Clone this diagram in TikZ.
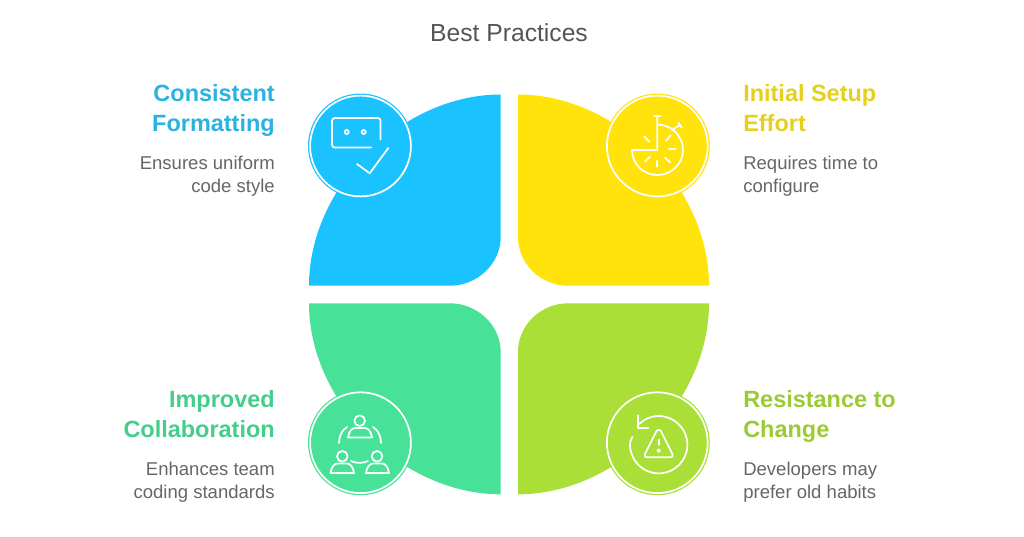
\documentclass[tikz,border=0pt]{standalone}
\usepackage{fontspec}
\setmainfont{Liberation Sans}
\definecolor{cblue}{HTML}{1AC2FF}
\definecolor{cyellow}{HTML}{FFE30A}
\definecolor{cgreen}{HTML}{47E297}
\definecolor{clime}{HTML}{A9DF37}
\definecolor{tblue}{HTML}{2BB2E0}
\definecolor{tyellow}{HTML}{E5D01E}
\definecolor{tgreen}{HTML}{44CE8A}
\definecolor{tlime}{HTML}{9ACB35}
\definecolor{tgrey}{HTML}{666666}
\definecolor{ttitle}{HTML}{555555}
\tikzset{
 x=0.75pt,y=-0.75pt,
 ring/.style={draw=white,line width=1.3pt},
 icon/.style={draw=white,line width=1.3pt,line cap=round,line join=round},
 titletext/.style={inner sep=0pt,anchor=base,text=ttitle,font=\fontsize{18.5}{20}\selectfont},
 headl/.style={inner sep=0pt,anchor=base east,font=\fontsize{17.6}{20}\selectfont\bfseries},
 headr/.style={inner sep=0pt,anchor=base west,font=\fontsize{17.6}{20}\selectfont\bfseries},
 bodyl/.style={inner sep=0pt,anchor=base east,text=tgrey,font=\fontsize{13.9}{15}\selectfont},
 bodyr/.style={inner sep=0pt,anchor=base west,text=tgrey,font=\fontsize{13.9}{15}\selectfont},
}
\begin{document}
\begin{tikzpicture}
\useasboundingbox[fill=white] (0,0) rectangle (1024,536);
\node[titletext] (title) at (509,41) {Best Practices};
% leaves
\fill[cblue] (309,285.7) .. controls (309,186.7) and (401.7,94.5) .. (500.7,94.5) -- (500.7,237) .. controls (500.7,264) and (477,285.7) .. (450,285.7) -- cycle;
\fill[cyellow] (709,285.7) .. controls (709,186.7) and (617,94.5) .. (518,94.5) -- (518,237) .. controls (518,264) and (541,285.7) .. (568,285.7) -- cycle;
\fill[cgreen] (309,303.3) .. controls (309,402.3) and (401.7,494.3) .. (500.7,494.3) -- (500.7,352) .. controls (500.7,325) and (477,303.3) .. (450,303.3) -- cycle;
\fill[clime] (709,303.3) .. controls (709,402.3) and (617,494.3) .. (518,494.3) -- (518,352) .. controls (518,325) and (541,303.3) .. (568,303.3) -- cycle;
% discs
\fill[cblue] (360.5,146) circle[radius=52.5];
\draw[ring] (360.5,146) circle[radius=50.4];
\fill[cyellow] (657.3,146) circle[radius=52.5];
\draw[ring] (657.3,146) circle[radius=50.4];
\fill[cgreen] (360.5,442.7) circle[radius=52.5];
\draw[ring] (360.5,442.7) circle[radius=50.4];
\fill[clime] (657.3,442.7) circle[radius=52.5];
\draw[ring] (657.3,442.7) circle[radius=50.4];
% speech box icon
\draw[icon] (380.5,139.5) -- (380.5,121) .. controls (380.5,119) and (379.5,118) .. (377.5,118) -- (335,118) .. controls (333,118) and (332,119) .. (332,121) -- (332,144.5) .. controls (332,146.5) and (333,147.5) .. (335,147.5) -- (371,147.5);
\draw[icon] (346.7,132) circle[radius=2];
\draw[icon] (363.7,132) circle[radius=2];
\draw[icon] (357,164) -- (369.7,173.3) -- (388.3,148);
% stopwatch icon
\draw[icon] (657.3,116) -- (657.3,150) -- (632,150) .. controls (632,164) and (643.5,175) .. (657.3,175) .. controls (671.2,175) and (683,164) .. (683,150) .. controls (683,136) and (671.2,124.5) .. (657.3,124.5);
\draw[icon] (654.3,116) -- (660.3,116);
\draw[icon] (672,130) -- (680,125);
\draw[icon] (678.3,122.5) -- (681.7,127.5);
\draw[icon] (666,140.7) -- (670.7,135.3);
\draw[icon] (669,148.7) -- (676,148.7);
\draw[icon] (665,157.7) -- (670,162.3);
\draw[icon] (657.3,160.7) -- (657.3,166.7);
\draw[icon] (645,161.7) -- (650,156.7);
\draw[icon] (644.3,136.7) -- (649.3,141.7);
% team icon
\draw[icon] (359.7,420.7) circle[radius=5.3];
\draw[icon] (348,437.5) .. controls (349,431) and (352,428) .. (355,428) -- (365,428) .. controls (368,428) and (371,431) .. (372,437.5) -- cycle;
\draw[icon] (342.3,456.3) circle[radius=5.3];
\draw[icon] (330.5,473) .. controls (331.5,466.5) and (334.5,463.5) .. (337.5,463.5) -- (347,463.5) .. controls (350,463.5) and (353,466.5) .. (354,473) -- cycle;
\draw[icon] (377,456.3) circle[radius=5.3];
\draw[icon] (366,473) .. controls (367,466.5) and (370,463.5) .. (373,463.5) -- (382,463.5) .. controls (385,463.5) and (388,466.5) .. (389,473) -- cycle;
\draw[icon] (339,443) .. controls (339,436) and (342,430) .. (347,427);
\draw[icon] (373,427) .. controls (378,430) and (381,436) .. (381,443);
\draw[icon] (351,461) .. controls (356,463.5) and (363,463.5) .. (368,461);
% warning icon
\draw[icon] (639.3,424) .. controls (644,419) and (651,416) .. (658.7,416) .. controls (674.5,416) and (687.4,429) .. (687.4,444.7) .. controls (687.4,460.5) and (674.5,473.4) .. (658.7,473.4) .. controls (643,473.4) and (630,460.5) .. (630,444.7) .. controls (630,442.5) and (630.5,440) .. (632.3,437);
\draw[icon] (638.3,415.3) -- (638.3,428) -- (648.3,428);
\draw[icon] (656.5,431) .. controls (657.7,429.2) and (659.7,429.2) .. (660.9,431) -- (672.4,454) .. controls (673.4,456) and (672.4,457.3) .. (670.5,457.3) -- (647,457.3) .. controls (645,457.3) and (644,456) .. (645,454) -- cycle;
\draw[icon] (658.7,439.7) -- (658.7,444.7);
\fill[white] (658.7,450.7) circle[radius=2];
% texts
\node[headl,text=tblue] (h1a) at (275,101) {Consistent};
\node[headl,text=tblue] (h1b) at (275,131) {Formatting};
\node[bodyl] (b1a) at (275,169) {Ensures uniform};
\node[bodyl] (b1b) at (275,192) {code style};
\node[headr,text=tyellow] (h2a) at (743,101) {Initial Setup};
\node[headr,text=tyellow] (h2b) at (743,131) {Effort};
\node[bodyr] (b2a) at (743,169) {Requires time to};
\node[bodyr] (b2b) at (743,192) {configure};
\node[headl,text=tgreen] (h3a) at (275,407) {Improved};
\node[headl,text=tgreen] (h3b) at (275,437) {Collaboration};
\node[bodyl] (b3a) at (275,475) {Enhances team};
\node[bodyl] (b3b) at (275,498) {coding standards};
\node[headr,text=tlime] (h4a) at (743,407) {Resistance to};
\node[headr,text=tlime] (h4b) at (743,437) {Change};
\node[bodyr] (b4a) at (743,475) {Developers may};
\node[bodyr] (b4b) at (743,498) {prefer old habits};
\end{tikzpicture}
\end{document}
